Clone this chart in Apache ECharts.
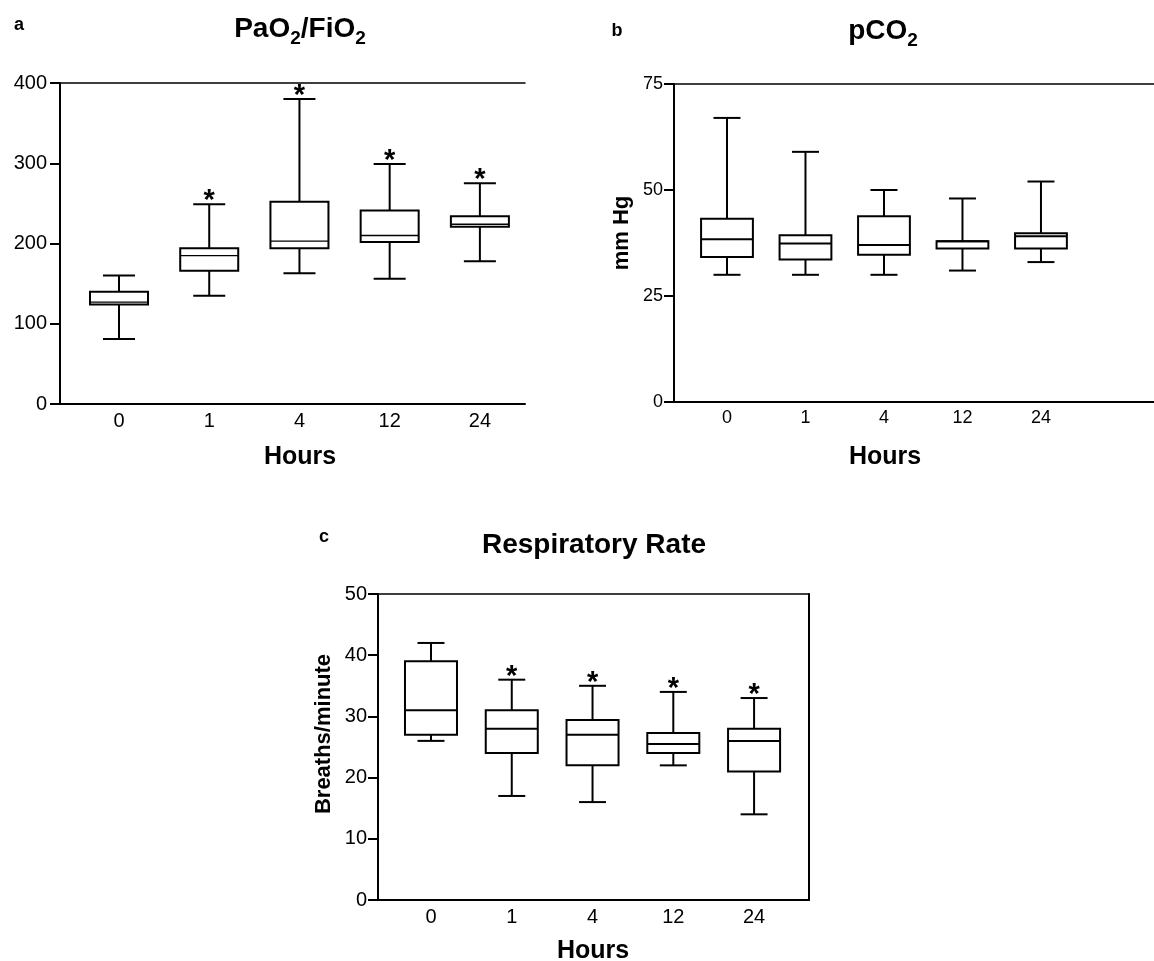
<!DOCTYPE html>
<html>
<head>
<meta charset="utf-8">
<script src="https://cdn.jsdelivr.net/npm/echarts@6/dist/echarts.min.js"></script>
<style>
html, body { margin: 0; padding: 0; background: #fff; }
#main { width: 1154px; height: 961px; }
</style>
</head>
<body>
<div id="main"></div>
<script>
var hours = ['0', '1', '4', '12', '24'];

// each box: [min, Q1, median, Q3, max]
var pao2Boxes = [
    [81, 124, 127, 140, 160],
    [135, 166, 185, 194, 249],
    [163, 194, 203, 252, 380],
    [156, 202, 210, 241, 299],
    [178, 221, 224, 234, 275]
];
var pao2Stars = [0, 1, 1, 1, 1];

var pco2Boxes = [
    [30, 34.2, 38.4, 43.2, 67],
    [30, 33.6, 37.4, 39.3, 59],
    [30, 34.7, 37, 43.8, 50],
    [31, 36.2, 37.9, 37.9, 48],
    [33, 36.2, 39.1, 39.8, 52]
];
var pco2Stars = [0, 0, 0, 0, 0];

var rrBoxes = [
    [26, 27, 31, 39, 42],
    [17, 24, 28, 31, 36],
    [16, 22, 27, 29.4, 35],
    [22, 24, 25.5, 27.3, 34],
    [14, 21, 26, 28, 33]
];
var rrStars = [0, 1, 1, 1, 1];

var FONT = '"Liberation Sans", Arial, sans-serif';

function toData(boxes, stars) {
    return boxes.map(function (b, i) {
        return [i, b[0], b[1], b[2], b[3], b[4], stars[i]];
    });
}

function makeRender(boxW, capW, medianWidth) {
    return function (params, api) {
        var x = api.value(0);
        var lo = api.coord([x, api.value(1)]);
        var q1 = api.coord([x, api.value(2)]);
        var md = api.coord([x, api.value(3)]);
        var q3 = api.coord([x, api.value(4)]);
        var hi = api.coord([x, api.value(5)]);
        var unit = api.size([1, 0])[0];
        var bw = unit * boxW, cw = unit * capW;
        var cx = lo[0];
        var ln = { stroke: '#000', lineWidth: 2 };
        var children = [
            { type: 'line', shape: { x1: cx, y1: hi[1], x2: cx, y2: q3[1] }, style: ln },
            { type: 'line', shape: { x1: cx, y1: q1[1], x2: cx, y2: lo[1] }, style: ln },
            { type: 'line', shape: { x1: cx - cw / 2, y1: hi[1], x2: cx + cw / 2, y2: hi[1] }, style: ln },
            { type: 'line', shape: { x1: cx - cw / 2, y1: lo[1], x2: cx + cw / 2, y2: lo[1] }, style: ln },
            { type: 'rect', shape: { x: cx - bw / 2, y: q3[1], width: bw, height: q1[1] - q3[1] },
              style: { fill: '#fff', stroke: '#000', lineWidth: 2 } },
            { type: 'line', shape: { x1: cx - bw / 2, y1: md[1], x2: cx + bw / 2, y2: md[1] },
              style: { stroke: '#000', lineWidth: medianWidth } }
        ];
        if (api.value(6)) {
            children.push({
                type: 'text', x: cx, y: hi[1] - 3,
                style: { text: '*', fill: '#000', font: 'bold 29px ' + FONT,
                         align: 'center', verticalAlign: 'middle' }
            });
        }
        return { type: 'group', children: children };
    };
}

function bottomAxis(grid, min, max, size) {
    return {
        type: 'value', gridIndex: grid, min: min, max: max,
        axisLine: { show: true, onZero: false, lineStyle: { color: '#000', width: 2 } },
        axisTick: { show: false },
        splitLine: { show: false },
        axisLabel: {
            customValues: [0, 1, 2, 3, 4],
            formatter: function (v) { return hours[Math.round(v)]; },
            color: '#000', fontSize: size, fontFamily: FONT, margin: 7
        }
    };
}

function topAxis(grid, min, max) {
    return {
        type: 'value', gridIndex: grid, min: min, max: max, position: 'top',
        axisLine: { show: true, onZero: false, lineStyle: { color: '#000', width: 1.5 } },
        axisTick: { show: false }, axisLabel: { show: false }, splitLine: { show: false }
    };
}

function leftAxis(grid, max, interval, size, margin) {
    return {
        type: 'value', gridIndex: grid, min: 0, max: max, interval: interval, position: 'left',
        axisLine: { show: true, onZero: false, lineStyle: { color: '#000', width: 2 } },
        axisTick: { show: true, length: 10, lineStyle: { color: '#000', width: 2 } },
        splitLine: { show: false },
        axisLabel: { color: '#000', fontSize: size, fontFamily: FONT, margin: margin }
    };
}

var titleRich = {
    b: { fontSize: 28, fontWeight: 'bold', fontFamily: FONT, lineHeight: 38, fill: '#000', color: '#000' },
    s: { fontSize: 19, fontWeight: 'bold', fontFamily: FONT, verticalAlign: 'bottom', fill: '#000', color: '#000' }
};

function label(text, x, y, size, rot) {
    return {
        type: 'text', x: x, y: y, rotation: rot || 0,
        style: { text: text, fill: '#000', font: 'bold ' + size + 'px ' + FONT,
                 align: 'center', verticalAlign: 'middle', textAlign: 'center', textVerticalAlign: 'middle' }
    };
}

function richTitle(text, x, y) {
    return {
        type: 'text', x: x, y: y,
        style: { text: text, rich: titleRich, fill: '#000',
                 align: 'center', verticalAlign: 'middle', textAlign: 'center', textVerticalAlign: 'middle' }
    };
}

var myChart = echarts.init(document.getElementById('main'));

myChart.setOption({
    backgroundColor: '#fff',
    animation: false,
    grid: [
        { left: 60, top: 83, width: 465, height: 321, outerBoundsMode: 'none' },
        { left: 674, top: 84, width: 480, height: 318, outerBoundsMode: 'none' },
        { left: 378, top: 594, width: 431, height: 306, outerBoundsMode: 'none' }
    ],
    xAxis: [
        bottomAxis(0, -0.654, 4.5, 20),
        bottomAxis(1, -0.675, 5.44, 18),
        bottomAxis(2, -0.656, 4.68, 20),
        topAxis(0, -0.654, 4.5),
        topAxis(1, -0.675, 5.44),
        topAxis(2, -0.656, 4.68)
    ],
    yAxis: [
        leftAxis(0, 400, 100, 20, 13),
        leftAxis(1, 75, 25, 18, 11),
        leftAxis(2, 50, 10, 20, 11),
        {
            type: 'value', gridIndex: 2, min: 0, max: 50, position: 'right',
            axisLine: { show: true, onZero: false, lineStyle: { color: '#000', width: 2 } },
            axisTick: { show: false }, axisLabel: { show: false }, splitLine: { show: false }
        }
    ],
    graphic: [
        label('a', 19, 25, 18),
        richTitle('{b|PaO}{s|2}{b|/FiO}{s|2}', 300, 29),
        label('Hours', 300, 457, 25),
        label('b', 617, 31, 18),
        richTitle('{b|pCO}{s|2}', 883, 31),
        label('Hours', 885, 457, 25),
        label('mm Hg', 622, 233, 22, Math.PI / 2),
        label('c', 324, 537, 18),
        label('Respiratory Rate', 594, 545, 28),
        label('Hours', 593, 951, 25),
        label('Breaths/minute', 324, 734, 22, Math.PI / 2)
    ],
    series: [
        {
            type: 'custom', xAxisIndex: 0, yAxisIndex: 0, clip: false,
            renderItem: makeRender(0.643, 0.355, 1.3),
            encode: { x: 0, y: [1, 2, 3, 4, 5] },
            data: toData(pao2Boxes, pao2Stars)
        },
        {
            type: 'custom', xAxisIndex: 1, yAxisIndex: 1, clip: false,
            renderItem: makeRender(0.66, 0.344, 2),
            encode: { x: 0, y: [1, 2, 3, 4, 5] },
            data: toData(pco2Boxes, pco2Stars)
        },
        {
            type: 'custom', xAxisIndex: 2, yAxisIndex: 2, clip: false,
            renderItem: makeRender(0.644, 0.334, 2),
            encode: { x: 0, y: [1, 2, 3, 4, 5] },
            data: toData(rrBoxes, rrStars)
        }
    ]
});

window.addEventListener('resize', function () {
    myChart.resize();
});
</script>
</body>
</html>
